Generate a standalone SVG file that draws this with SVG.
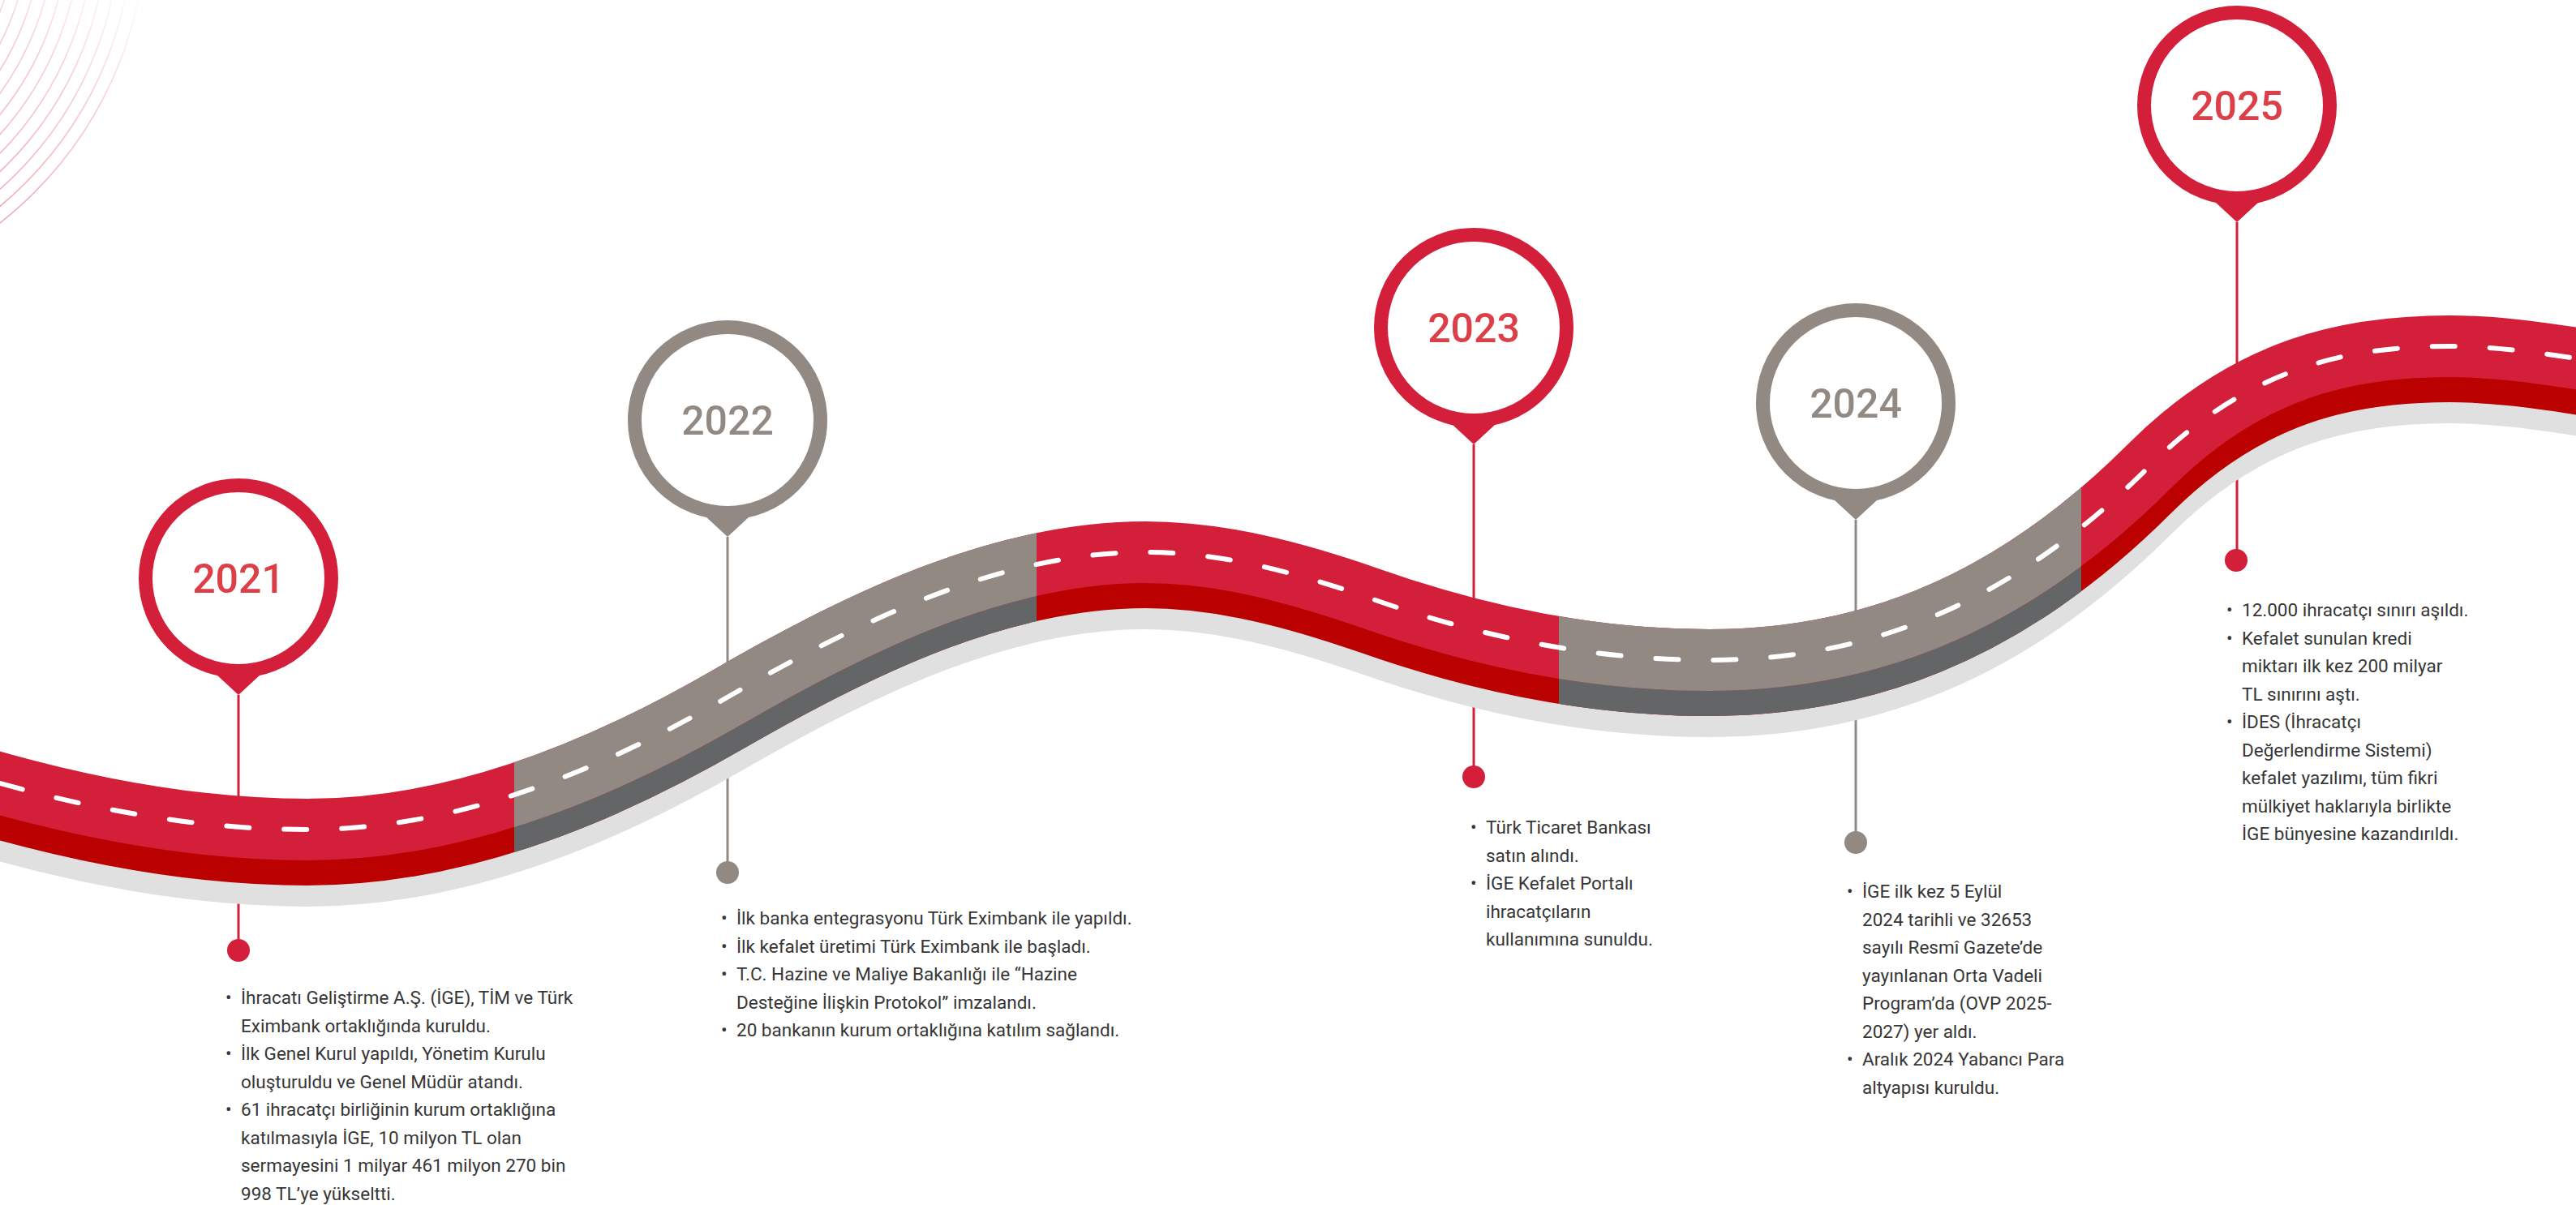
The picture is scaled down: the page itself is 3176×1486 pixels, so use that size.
<svg xmlns="http://www.w3.org/2000/svg" width="3176" height="1486" viewBox="0 0 3176 1486">
<style>
.body{font-family:Roboto,"Liberation Sans",sans-serif;font-size:22.5px;fill:#363636}
.yr{font-family:Roboto,"Liberation Sans",sans-serif;font-size:50px;font-weight:500;text-anchor:middle}
.red .ring{stroke:#D41F3B}
.red .tipf,.red .dot{fill:#D41F3B}
.red .yr{fill:#DC3F48}
.gray .ring{stroke:#938983}
.gray .tipf,.gray .dot{fill:#938983}
.gray .yr{fill:#938983}
.ring{fill:#fff;stroke-width:17}
.stem{stroke-width:3;fill:none}
.arc{fill:none;stroke:url(#fade);stroke-width:1.6}
.road{fill:none;stroke-width:76}
</style>
<defs>
<linearGradient id="fade" gradientUnits="userSpaceOnUse" x1="0" y1="260" x2="210" y2="0">
<stop offset="0" stop-color="#E88F9A" stop-opacity="0.75"/>
<stop offset="0.55" stop-color="#EFA7B0" stop-opacity="0.55"/>
<stop offset="1" stop-color="#F6CDD2" stop-opacity="0"/>
</linearGradient>
<path id="rp" d="M -60 949 L 0 966 C 126 1001 253 1023 379 1023 C 553 1023 726 959 900 858 C 1071 759 1241 681 1412 681 C 1505 681 1597 705.5 1690 738 C 1829 787 1968 814 2107 814 C 2288 814 2469 756 2650 575 C 2773 452 2897 427 3020 427 C 3072 427 3124 434 3176 442 L 3260 455"/>
<clipPath id="grayclip">
<rect x="634" y="0" width="644" height="1486"/>
<rect x="1922" y="0" width="644" height="1486"/>
</clipPath>
</defs>
<rect width="3176" height="1486" fill="#fff"/>
<g id="background-arcs">
<circle class="arc" cx="-290" cy="-95" r="310"/>
<circle class="arc" cx="-290" cy="-95" r="326"/>
<circle class="arc" cx="-290" cy="-95" r="342"/>
<circle class="arc" cx="-290" cy="-95" r="358"/>
<circle class="arc" cx="-290" cy="-95" r="374"/>
<circle class="arc" cx="-290" cy="-95" r="390"/>
<circle class="arc" cx="-290" cy="-95" r="406"/>
<circle class="arc" cx="-290" cy="-95" r="422"/>
<circle class="arc" cx="-290" cy="-95" r="438"/>
<circle class="arc" cx="-290" cy="-95" r="454"/>
<circle class="arc" cx="-290" cy="-95" r="470"/>
</g>
<g id="connectors">
<line class="stem" x1="294" y1="857" x2="294" y2="1172" stroke="#D41F3B"/>
<line class="stem" x1="897" y1="662" x2="897" y2="1076" stroke="#938983"/>
<line class="stem" x1="1817" y1="548" x2="1817" y2="958" stroke="#D41F3B"/>
<line class="stem" x1="2288" y1="641" x2="2288" y2="1039" stroke="#938983"/>
<line class="stem" x1="2758" y1="274" x2="2758" y2="691" stroke="#D41F3B"/>
</g>
<g id="road">
<use href="#rp" class="road" stroke="#E0E0E0" transform="translate(0,57)"/>
<use href="#rp" class="road" stroke="#BB0000" transform="translate(0,31)"/>
<use href="#rp" class="road" stroke="#646567" transform="translate(0,31)" clip-path="url(#grayclip)"/>
<use href="#rp" class="road" stroke="#D41F3B"/>
<use href="#rp" class="road" stroke="#938983" clip-path="url(#grayclip)"/>
<use href="#rp" fill="none" stroke="#fff" stroke-width="6" stroke-linecap="round" stroke-dasharray="28 43" stroke-dashoffset="8"/>
</g>
<g id="node-2021" class="red">
<polygon class="tipf" points="267,832 321,832 294,857"/>
<circle class="ring" cx="294" cy="713" r="114.5"/>
<text class="yr" x="294" y="731">2021</text>
<circle class="dot" cx="294" cy="1172" r="14"/>
<text class="body" x="278" y="1238">•</text>
<text class="body" x="297" y="1238">İhracatı Geliştirme A.Ş. (İGE), TİM ve Türk</text>
<text class="body" x="297" y="1272.5">Eximbank ortaklığında kuruldu.</text>
<text class="body" x="278" y="1307">•</text>
<text class="body" x="297" y="1307">İlk Genel Kurul yapıldı, Yönetim Kurulu</text>
<text class="body" x="297" y="1341.5">oluşturuldu ve Genel Müdür atandı.</text>
<text class="body" x="278" y="1376">•</text>
<text class="body" x="297" y="1376">61 ihracatçı birliğinin kurum ortaklığına</text>
<text class="body" x="297" y="1410.5">katılmasıyla İGE, 10 milyon TL olan</text>
<text class="body" x="297" y="1445">sermayesini 1 milyar 461 milyon 270 bin</text>
<text class="body" x="297" y="1479.5">998 TL’ye yükseltti.</text>
</g>
<g id="node-2022" class="gray">
<polygon class="tipf" points="870,637 924,637 897,662"/>
<circle class="ring" cx="897" cy="518" r="114.5"/>
<text class="yr" x="897" y="536">2022</text>
<circle class="dot" cx="897" cy="1076" r="14"/>
<text class="body" x="889" y="1140">•</text>
<text class="body" x="908" y="1140">İlk banka entegrasyonu Türk Eximbank ile yapıldı.</text>
<text class="body" x="889" y="1174.5">•</text>
<text class="body" x="908" y="1174.5">İlk kefalet üretimi Türk Eximbank ile başladı.</text>
<text class="body" x="889" y="1209">•</text>
<text class="body" x="908" y="1209">T.C. Hazine ve Maliye Bakanlığı ile “Hazine</text>
<text class="body" x="908" y="1243.5">Desteğine İlişkin Protokol” imzalandı.</text>
<text class="body" x="889" y="1278">•</text>
<text class="body" x="908" y="1278">20 bankanın kurum ortaklığına katılım sağlandı.</text>
</g>
<g id="node-2023" class="red">
<polygon class="tipf" points="1790,523 1844,523 1817,548"/>
<circle class="ring" cx="1817" cy="404" r="114.5"/>
<text class="yr" x="1817" y="422">2023</text>
<circle class="dot" cx="1817" cy="958" r="14"/>
<text class="body" x="1813" y="1028">•</text>
<text class="body" x="1832" y="1028">Türk Ticaret Bankası</text>
<text class="body" x="1832" y="1062.5">satın alındı.</text>
<text class="body" x="1813" y="1097">•</text>
<text class="body" x="1832" y="1097">İGE Kefalet Portalı</text>
<text class="body" x="1832" y="1131.5">ihracatçıların</text>
<text class="body" x="1832" y="1166">kullanımına sunuldu.</text>
</g>
<g id="node-2024" class="gray">
<polygon class="tipf" points="2261,616 2315,616 2288,641"/>
<circle class="ring" cx="2288" cy="497" r="114.5"/>
<text class="yr" x="2288" y="515">2024</text>
<circle class="dot" cx="2288" cy="1039" r="14"/>
<text class="body" x="2277" y="1107">•</text>
<text class="body" x="2296" y="1107">İGE ilk kez 5 Eylül</text>
<text class="body" x="2296" y="1141.5">2024 tarihli ve 32653</text>
<text class="body" x="2296" y="1176">sayılı Resmî Gazete’de</text>
<text class="body" x="2296" y="1210.5">yayınlanan Orta Vadeli</text>
<text class="body" x="2296" y="1245">Program’da (OVP 2025-</text>
<text class="body" x="2296" y="1279.5">2027) yer aldı.</text>
<text class="body" x="2277" y="1314">•</text>
<text class="body" x="2296" y="1314">Aralık 2024 Yabancı Para</text>
<text class="body" x="2296" y="1348.5">altyapısı kuruldu.</text>
</g>
<g id="node-2025" class="red">
<polygon class="tipf" points="2731,249 2785,249 2758,274"/>
<circle class="ring" cx="2758" cy="130" r="114.5"/>
<text class="yr" x="2758" y="148">2025</text>
<circle class="dot" cx="2757" cy="691" r="14"/>
<text class="body" x="2745" y="760">•</text>
<text class="body" x="2764" y="760">12.000 ihracatçı sınırı aşıldı.</text>
<text class="body" x="2745" y="794.5">•</text>
<text class="body" x="2764" y="794.5">Kefalet sunulan kredi</text>
<text class="body" x="2764" y="829">miktarı ilk kez 200 milyar</text>
<text class="body" x="2764" y="863.5">TL sınırını aştı.</text>
<text class="body" x="2745" y="898">•</text>
<text class="body" x="2764" y="898">İDES (İhracatçı</text>
<text class="body" x="2764" y="932.5">Değerlendirme Sistemi)</text>
<text class="body" x="2764" y="967">kefalet yazılımı, tüm fikri</text>
<text class="body" x="2764" y="1001.5">mülkiyet haklarıyla birlikte</text>
<text class="body" x="2764" y="1036">İGE bünyesine kazandırıldı.</text>
</g>
</svg>
